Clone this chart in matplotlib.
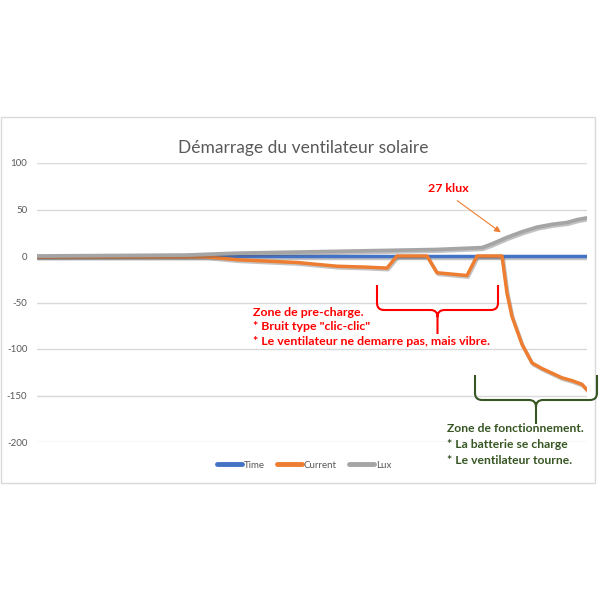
import matplotlib
matplotlib.use('Agg')
import matplotlib.pyplot as plt
import matplotlib.patheffects as pe
from matplotlib.path import Path
from matplotlib.patches import PathPatch, Rectangle

plt.rcParams['font.family'] = ['Lato', 'DejaVu Sans']
plt.rcParams['axes.unicode_minus'] = False

# sample index along the (unlabelled) x axis
samples = list(range(0, 111))
time_vals = [0] * len(samples)

# current vertices (sample, value)
cur_s = [0, 34, 40, 52, 60, 66, 70, 72, 78, 80, 86, 88, 93, 94, 95, 97, 99, 101, 103, 105, 107, 109, 110]
cur_v = [-1, -1, -4, -7, -11, -12, -13, 0, 0, -18, -21, 0, 0, -40, -65, -95, -115, -121, -126, -131, -134, -138, -144]

# lux vertices
lux_s = [0, 30, 40, 60, 80, 89, 91, 94, 97, 100, 103, 106, 108, 110]
lux_v = [0, 1, 3, 5, 7, 9, 13, 20, 26, 31, 34, 36, 39, 41]

yticks = [100, 50, 0, -50, -100, -150, -200]

fig = plt.figure(figsize=(6, 6), dpi=100)
W = H = 600.0


def px(x, y):
    return (x / W, 1 - y / H)


# chart frame
fig.add_artist(Rectangle(px(1, 483), 594 / W, 366 / H, transform=fig.transFigure,
                         fill=False, edgecolor='#D9D9D9', linewidth=1))

ax = fig.add_axes([37 / W, 1 - 442 / H, 550 / W, 279 / H])
ax.set_xlim(0, 110)
ax.set_ylim(-200, 100)
ax.set_yticks(yticks)
ax.set_xticks([])
for s in ax.spines.values():
    s.set_visible(False)
ax.grid(axis='y', color='#D9D9D9', linewidth=1)
ax.set_axisbelow(True)
ax.tick_params(axis='y', length=0, pad=7, labelsize=7, labelcolor='#595959')

shadow = [pe.SimpleLineShadow(offset=(0.8, -1.2), shadow_color='#555555', alpha=0.35), pe.Normal()]
ax.plot(samples, time_vals, color='#4472C4', lw=2.5, label='Time', path_effects=shadow,
        solid_capstyle='round')
ax.plot(cur_s, cur_v, color='#ED7D31', lw=2.5, label='Current', path_effects=shadow,
        solid_capstyle='round', solid_joinstyle='round')
ax.plot(lux_s, lux_v, color='#A5A5A5', lw=2.7, label='Lux', path_effects=shadow,
        solid_capstyle='round', solid_joinstyle='round')

fig.text(303 / W, 1 - 148 / H, 'Démarrage du ventilateur solaire', ha='center', va='center',
         fontsize=12.5, color='#595959')

h, l = ax.get_legend_handles_labels()
leg = fig.legend(h, l, loc='center', bbox_to_anchor=px(304, 465), ncol=3, frameon=False,
                 fontsize=7, handlelength=2.6, handletextpad=0.2, columnspacing=1.2)
for t in leg.get_texts():
    t.set_color('#595959')
for ln in leg.get_lines():
    ln.set_linewidth(3.5)
    ln.set_path_effects([])


def brace(left, right, top, mid, tip, color, r=7):
    c = (left + right) / 2
    verts = [(left, top), (left, mid - r), (left, mid), (left + r, mid), (c - r, mid), (c, mid), (c, mid + r), (c, tip),
             (right, top), (right, mid - r), (right, mid), (right - r, mid), (c + r, mid), (c, mid), (c, mid + r)]
    codes = [Path.MOVETO, Path.LINETO, Path.CURVE3, Path.CURVE3, Path.LINETO, Path.CURVE3, Path.CURVE3, Path.LINETO,
             Path.MOVETO, Path.LINETO, Path.CURVE3, Path.CURVE3, Path.LINETO, Path.CURVE3, Path.CURVE3]
    verts = [px(x, y) for x, y in verts]
    fig.add_artist(PathPatch(Path(verts, codes), transform=fig.transFigure, fill=False,
                             edgecolor=color, linewidth=1.5))


red = '#FF0000'
green = '#375623'
brace(377, 498, 285, 310, 334, red)
brace(475, 597, 375, 400, 424, green)

red_lines = ['Zone de pre-charge.', '* Bruit type "clic-clic"', '* Le ventilateur ne demarre pas, mais vibre.']
for i, t in enumerate(red_lines):
    fig.text(253 / W, 1 - (312 + 15 * i) / H, t, ha='left', va='center', fontsize=8.9,
             fontweight='bold', color=red)

green_lines = ['Zone de fonctionnement.', '* La batterie se charge', '* Le ventilateur tourne.']
for i, t in enumerate(green_lines):
    fig.text(447 / W, 1 - (428 + 16.5 * i) / H, t, ha='left', va='center', fontsize=8.7,
             fontweight='bold', color=green)

fig.text(448 / W, 1 - 188 / H, '27 klux', ha='center', va='center', fontsize=8.9,
         fontweight='bold', color=red)
ax.annotate('', xy=px(503, 234), xycoords='figure fraction', xytext=px(455, 199),
            textcoords='figure fraction',
            arrowprops=dict(arrowstyle='-|>', color='#ED7D31', lw=0.8, mutation_scale=9))

fig.savefig('out.png', dpi=100, facecolor='white')
